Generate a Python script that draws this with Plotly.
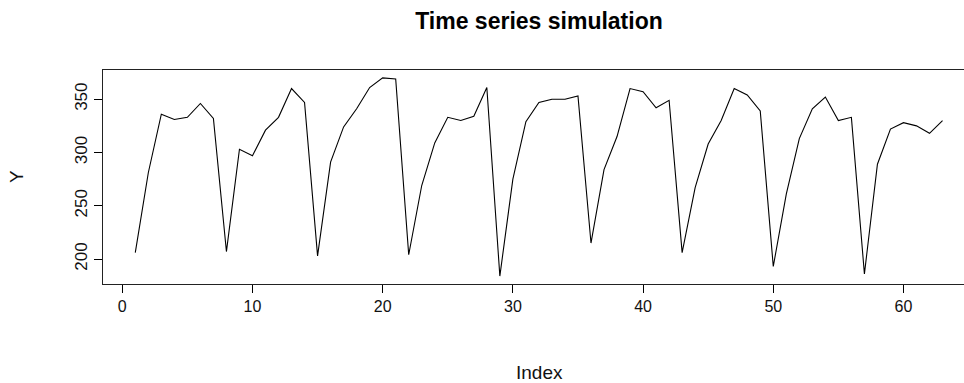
import plotly.graph_objects as go

index = list(range(1, 64))
y_values = [
    206, 281, 336, 331, 333, 346, 332, 207, 303, 297,
    321, 333, 360, 347, 203, 291, 324, 341, 361, 370,
    369, 204, 269, 309, 333, 330, 334, 361, 184, 275,
    329, 347, 350, 350, 353, 215, 284, 315, 360, 357,
    342, 349, 206, 267, 308, 330, 360, 354, 339, 193,
    261, 313, 341, 352, 330, 333, 186, 289, 322, 328,
    325, 318, 330,
]
x_ticks = [0, 10, 20, 30, 40, 50, 60]
y_ticks = [200, 250, 300, 350]

title_text = "Time series simulation"
x_title = "Index"
y_title = "Y"

W, H = 964, 383
left, top, bottom_px = 103, 70, 284
px_per_unit = 13.02

xmin, xmax = min(index), max(index)
x0 = xmin - 0.04 * (xmax - xmin)
x1_vis = x0 + (W - left) / px_per_unit
ymin, ymax = min(y_values), max(y_values)
ypad = 0.04 * (ymax - ymin)

fig = go.Figure()
fig.add_trace(go.Scatter(
    x=index, y=y_values, mode="lines",
    line=dict(color="black", width=1.1),
    hoverinfo="skip", showlegend=False,
))

font = "Liberation Sans, Arial, sans-serif"
fig.update_layout(
    width=W, height=H,
    margin=dict(l=left, r=0, t=top, b=H - bottom_px, pad=0),
    paper_bgcolor="white", plot_bgcolor="white",
    font=dict(family=font, color="black"),
    title=dict(text="<b>" + title_text + "</b>", font=dict(size=23, family=font, color="black"),
               x=539 / W, xref="container", xanchor="center",
               y=1 - 21 / H, yref="container", yanchor="middle"),
    xaxis=dict(range=[x0, x1_vis], tickvals=x_ticks, ticks="outside", ticklen=8,
               tickcolor="black", tickwidth=1, showgrid=False, zeroline=False,
               showline=True, linecolor="#222", linewidth=1.3, mirror=True,
               tickfont=dict(size=16, family=font, color="#111")),
    yaxis=dict(range=[ymin - ypad, ymax + ypad], tickvals=y_ticks, ticks="outside", ticklen=8,
               tickcolor="black", tickwidth=1, showgrid=False, zeroline=False,
               showline=True, linecolor="#222", linewidth=1.3, mirror=False,
               tickangle=-90, tickfont=dict(size=17, family=font, color="#111")),
    annotations=[
        dict(text=x_title, xref="paper", yref="paper", x=(539 - left) / (W - left),
             y=-(372 - bottom_px) / (bottom_px - top), xanchor="center", yanchor="middle",
             showarrow=False, font=dict(size=19, family=font, color="#111")),
        dict(text=y_title, xref="paper", yref="paper", x=-(left - 16) / (W - left),
             y=0.5, xanchor="center", yanchor="middle", textangle=-90,
             showarrow=False, font=dict(size=19, family=font, color="#111")),
    ],
)
fig.write_html("out.html")
